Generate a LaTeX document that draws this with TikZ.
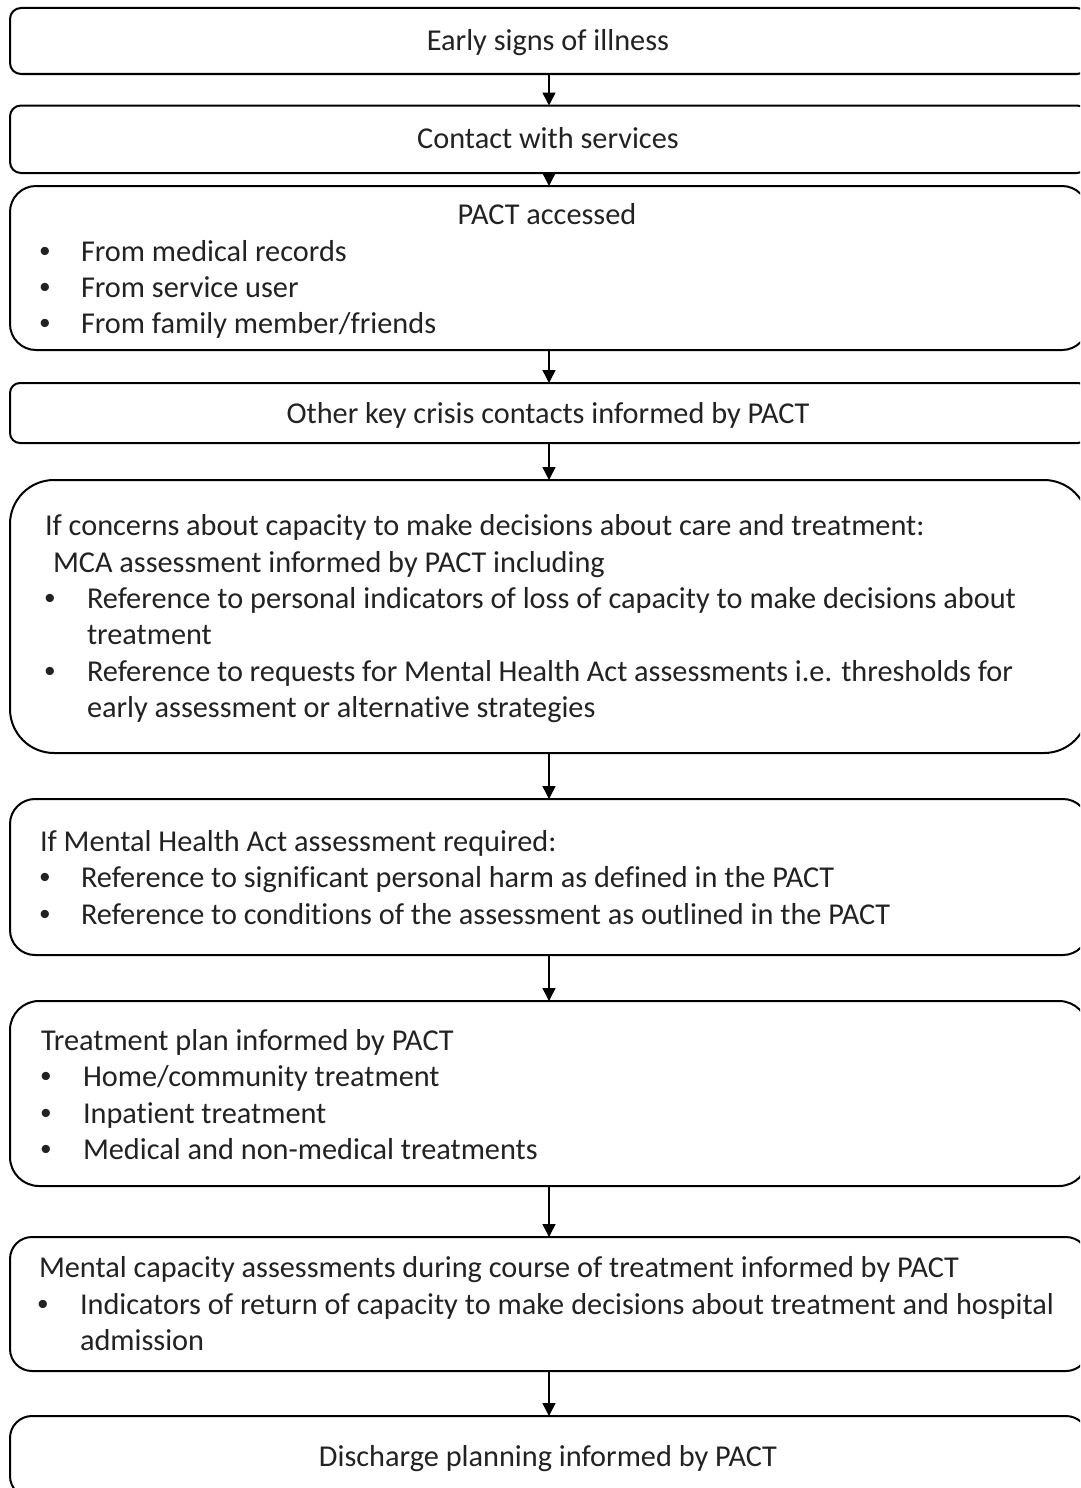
\documentclass[tikz,border=0pt]{standalone}
\usepackage{fontspec}
\setmainfont{Carlito}[Ligatures=NoCommon]
\newfontfamily\arialf{Liberation Sans}
\usetikzlibrary{arrows.meta}
\definecolor{txtc}{HTML}{222222}
\newcommand\fs{\fontsize{30.3}{36.5}\selectfont}
\tikzset{
  box/.style={draw=black, line width=2pt, inner sep=0pt, outer sep=0pt, minimum width=1078pt},
  txt/.style={inner sep=0pt, outer sep=0pt, anchor=base west, font=\fs, text=txtc},
  ctxt/.style={inner sep=0pt, outer sep=0pt, anchor=base, font=\fs, text=txtc},
  bul/.style={inner sep=0pt, outer sep=0pt, anchor=base, font=\fs\arialf, text=txtc},
  arr/.style={line width=1.5pt, -{Triangle[length=13pt, width=13pt]}}
}
\begin{document}
\begin{tikzpicture}[x=1pt, y=-1pt]
\clip (0,0) rectangle (1080,1488);
\fill[white] (0,0) rectangle (1080,1488);
% boxes
\node[box, rounded corners=11pt, minimum height=66pt] (b1) at (549,41) {};
\node[box, rounded corners=11pt, minimum height=67.5pt] (b2) at (549,139.25) {};
\node[box, rounded corners=26pt, minimum height=164pt] (b3) at (549,268) {};
\node[box, rounded corners=10pt, minimum height=60pt] (b4) at (549,413) {};
\node[box, rounded corners=44pt, minimum height=273pt] (b5) at (549,616.5) {};
\node[box, rounded corners=25pt, minimum height=156pt] (b6) at (549,877) {};
\node[box, rounded corners=29pt, minimum height=185pt] (b7) at (549,1093.5) {};
\node[box, rounded corners=22pt, minimum height=134pt] (b8) at (549,1304) {};
\node[box, rounded corners=22pt, minimum height=82pt] (b9) at (549,1457) {};
% arrows
\draw[arr] (b1) -- (b2);
\draw[arr] (b2) -- (b3);
\draw[arr] (b3) -- (b4);
\draw[arr] (b4) -- (b5);
\draw[arr] (b5) -- (b6);
\draw[arr] (b6) -- (b7);
\draw[arr] (b7) -- (b8);
\draw[arr] (b8) -- (b9);
% box 1, 2
\node[ctxt] (t1) at (548,51) {Early signs of illness};
\node[ctxt] (t2) at (548,148) {Contact with services};
% box 3
\node[ctxt] (t3) at (547,224) {PACT accessed};
\node[bul] (t3b1) at (45,261) {•};
\node[txt] (t3l1) at (81,261) {From medical records};
\node[bul] (t3b2) at (45,297) {•};
\node[txt] (t3l2) at (81,297) {From service user};
\node[bul] (t3b3) at (45,333) {•};
\node[txt] (t3l3) at (81,333) {From family member/friends};
% box 4
\node[ctxt] (t4) at (548,423) {Other key crisis contacts informed by PACT};
% box 5
\node[txt] (t5a) at (45,535) {If concerns about capacity to make decisions about care and treatment:};
\node[txt] (t5b) at (53,572) {MCA assessment informed by PACT including};
\node[bul] (t5b1) at (50,608) {•};
\node[txt] (t5l1) at (87,608) {\makebox[929pt][s]{Reference to personal indicators of loss of capacity to make decisions about}};
\node[txt] (t5l2) at (87,644) {treatment};
\node[bul] (t5b2) at (50,681) {•};
\node[txt] (t5l3) at (87,681) {\makebox[926pt][s]{Reference to requests for Mental Health Act assessments i.e. thresholds for}};
\node[txt] (t5l4) at (87,717) {early assessment or alternative strategies};
% box 6
\node[txt] (t6a) at (40,851) {If Mental Health Act assessment required:};
\node[bul] (t6b1) at (45,887.5) {•};
\node[txt] (t6l1) at (81,887.5) {Reference to significant personal harm as defined in the PACT};
\node[bul] (t6b2) at (45,924) {•};
\node[txt] (t6l2) at (81,924) {Reference to conditions of the assessment as outlined in the PACT};
% box 7
\node[txt] (t7a) at (41,1050) {Treatment plan informed by PACT};
\node[bul] (t7b1) at (46,1086) {•};
\node[txt] (t7l1) at (83,1086) {Home/community treatment};
\node[bul] (t7b2) at (46,1123) {•};
\node[txt] (t7l2) at (83,1123) {Inpatient treatment};
\node[bul] (t7b3) at (46,1159) {•};
\node[txt] (t7l3) at (83,1159) {Medical and non-medical treatments};
% box 8
\node[txt] (t8a) at (39,1277) {Mental capacity assessments during course of treatment informed by PACT};
\node[bul] (t8b1) at (43,1314) {•};
\node[txt] (t8l1) at (80,1314) {\makebox[974pt][s]{Indicators of return of capacity to make decisions about treatment and hospital}};
\node[txt] (t8l2) at (80,1350) {admission};
% box 9
\node[ctxt] (t9) at (548,1466) {Discharge planning informed by PACT};
\end{tikzpicture}
\end{document}
